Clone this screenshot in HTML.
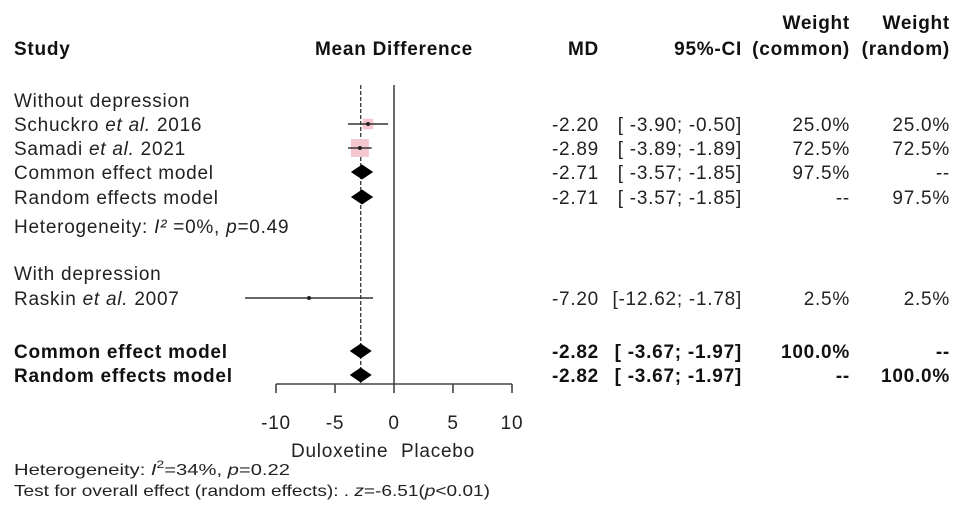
<!DOCTYPE html>
<html><head><meta charset="utf-8"><style>
body{margin:0;background:#fff}
svg text{font-family:"Liberation Sans",Arial,sans-serif;font-size:19px;letter-spacing:0.75px;fill:#222}
.b{font-weight:bold;fill:#111}
</style></head><body>
<svg id="c" width="969" height="523" xmlns="http://www.w3.org/2000/svg">
<g id="hdr">
<text class="b" x="14" y="55">Study</text>
<text class="b" x="394" y="55" text-anchor="middle">Mean Difference</text>
<text class="b" x="599" y="55" text-anchor="end">MD</text>
<text class="b" x="742" y="55" text-anchor="end">95%-CI</text>
<text class="b" x="850" y="29" text-anchor="end">Weight</text>
<text class="b" x="850" y="55" text-anchor="end">(common)</text>
<text class="b" x="950" y="29" text-anchor="end">Weight</text>
<text class="b" x="950" y="55" text-anchor="end">(random)</text>
</g>
<text x="14" y="107">Without depression</text>
<text x="14" y="233">Heterogeneity: <tspan font-style="italic">I²</tspan> =0%, <tspan font-style="italic">p</tspan>=0.49</text>
<text x="14" y="280">With depression</text>
<text x="291" y="457">Duloxetine</text>
<text x="401" y="457">Placebo</text>
<text x="14" y="475" style="font-size:16px;letter-spacing:0" textLength="276" lengthAdjust="spacingAndGlyphs">Heterogeneity: <tspan font-style="italic">I</tspan><tspan dy="-7" font-size="11">2</tspan><tspan dy="7">=34%,   </tspan><tspan font-style="italic">p</tspan>=0.22</text>
<text x="14" y="496" style="font-size:16px;letter-spacing:0" textLength="476" lengthAdjust="spacingAndGlyphs">Test for overall effect (random effects): . <tspan font-style="italic">z</tspan>=-6.51(<tspan font-style="italic">p</tspan>&lt;0.01)</text>
</svg>
<script>
const labels=["Schuckro|et al.| 2016","Samadi|et al.| 2021","Common effect model","Random effects model","Raskin|et al.| 2007","Common effect model","Random effects model"];
const rowY=[124,148,172,197,298,351,375];
const md=[-2.20,-2.89,-2.71,-2.71,-7.20,-2.82,-2.82];
const lo=[-3.90,-3.89,-3.57,-3.57,-12.62,-3.67,-3.67];
const hi=[-0.50,-1.89,-1.85,-1.85,-1.78,-1.97,-1.97];
const wCommon=["25.0%","72.5%","97.5%","--","2.5%","100.0%","--"];
const wRandom=["25.0%","72.5%","--","97.5%","2.5%","--","100.0%"];
const kind=["study","study","diamond","diamond","study","diamond","diamond"];
const bold=[0,0,0,0,0,1,1];
const ticks=[-10,-5,0,5,10];
const overall=-2.82;
const NS="http://www.w3.org/2000/svg",svg=document.getElementById('c');
const x=v=>394+v*11.8;
function el(t,a,p){const e=document.createElementNS(NS,t);for(const k in a)e.setAttribute(k,a[k]);(p||svg).appendChild(e);return e;}
const fmt=v=>v.toFixed(2);
function ci(l,h){let a=fmt(l),b=fmt(h);return "["+(a.length<6?" ":"")+a+"; "+b+"]";}
let z=el('line',{x1:x(0),x2:x(0),y1:85,y2:384,stroke:'#444','stroke-width':1.6});

let d=el('line',{x1:x(overall),x2:x(overall),y1:85,y2:384,stroke:'#333','stroke-width':1.3,'stroke-dasharray':'4,2'});

let ax=el('g',{});
el('line',{x1:x(ticks[0]),x2:x(ticks[ticks.length-1]),y1:384,y2:384,stroke:'#444','stroke-width':1.6},ax);
ticks.forEach(t=>{el('line',{x1:x(t),x2:x(t),y1:384,y2:393,stroke:'#444','stroke-width':1.6},ax);
 let tx=el('text',{x:x(t),y:429,'text-anchor':'middle'},ax);tx.textContent=t;
 });
rowY.forEach((y,i)=>{
 let g=el('g',{});
 let cls=bold[i]?'b':'';
 let t=el('text',{x:14,y:y+7,class:cls},g);
 labels[i].split('|').forEach((s,j)=>{let ts=el('tspan',j==1?{'font-style':'italic'}:{},t);ts.textContent=(j==1?' ':'')+s;});
 [[599,fmt(md[i])],[742,ci(lo[i],hi[i])],[850,wCommon[i]],[950,wRandom[i]]].forEach(([xx,s])=>{
  let c=el('text',{x:xx,y:y+7,'text-anchor':'end',class:cls,'xml:space':'preserve'},g);c.textContent=s;});
 if(kind[i]=="study"){
  let sz=Math.sqrt(parseFloat(wCommon[i]))*2.1;
  let sq=el('rect',{x:x(md[i])-sz/2,y:y-sz/2,width:sz,height:sz,fill:'#f4c6d0'},g);
  
  let ln=el('line',{x1:x(lo[i]),x2:x(hi[i]),y1:y,y2:y,stroke:'#333','stroke-width':1.5},g);
  
  let p=el('circle',{cx:x(md[i]),cy:y,r:2,fill:'#222'},g);
  
 } else {
  let dm=el('polygon',{points:`${x(lo[i])-1},${y} ${x(md[i])},${y-7.5} ${x(hi[i])+1},${y} ${x(md[i])},${y+7.5}`,fill:'#000'},g);
  
 }
});
</script>
</body></html>
